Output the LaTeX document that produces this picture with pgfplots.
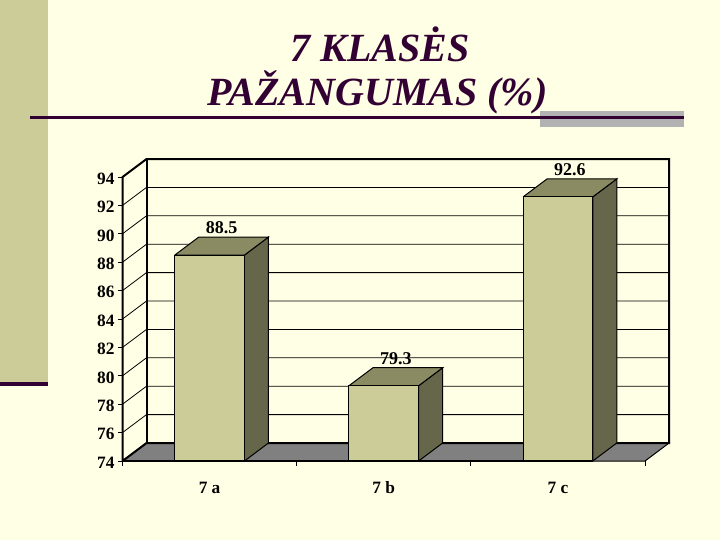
\documentclass[border=0pt]{standalone}
\usepackage{fontspec}
\setmainfont{Liberation Serif}
\usepackage{pgfplots}
\pgfplotsset{compat=1.18}
\definecolor{bg}{HTML}{FFFFE5}
\definecolor{barfront}{HTML}{CCCC99}
\definecolor{bartop}{HTML}{8A8A63}
\definecolor{barside}{HTML}{66664A}
\definecolor{plum}{HTML}{330033}
\definecolor{floorgray}{HTML}{808080}
\begin{document}
\begin{tikzpicture}
% slide background, in image pixels (1px = 0.75pt, y down)
\begin{scope}[x=0.75pt,y=-0.75pt]
\path[use as bounding box,fill=bg] (0,0) rectangle (720,540);
\fill[barfront] (0,0) rectangle (48,382);
\fill[plum] (0,382) rectangle (48,386);
\fill[black!30] (540,111) rectangle (684,127);
\fill[plum] (30,116) rectangle (684,119);
\node[text=plum,font=\fontsize{30}{30}\selectfont\bfseries\itshape] at (380,44) {7 KLASĖS};
\node[text=plum,font=\fontsize{30}{30}\selectfont\bfseries\itshape] at (377.5,92) {PAŽANGUMAS (\%)};
\end{scope}
\begin{axis}[
at={(91.875pt,-345.75pt)},anchor=south west,
scale only axis,width=391.875pt,height=213pt,
xmin=-0.5,xmax=2.5,ymin=74,ymax=94,
clip=false,
axis line style={draw=none},
tick align=outside,
xtick pos=lower,ytick pos=left,
xtick={-0.5,0.5,1.5,2.5},xticklabels={},
extra x ticks={0,1,2},
extra x tick labels={7 a,7 b,7 c},
extra x tick style={major tick length=0pt,
  xticklabel style={yshift=-11.5pt,text height=9pt,text depth=0.5pt}},
ytick={74,76,...,94},
major tick length=3.5pt,
tick style={black,line width=0.75pt},
/pgf/number format/assume math mode=true,
ticklabel style={font=\fontsize{13}{13}\selectfont\bfseries,black},
yticklabel style={xshift=1pt,yshift=-1.2pt},
]
% floor
\addplot[fill=floorgray,draw=black,line width=0.75pt] coordinates {
(-0.5,74) (-0.3622,75.268) (2.6378,75.268) (2.5,74) (-0.5,74)};
% gridlines: side wall and back wall
\addplot[black,line width=0.6pt,unbounded coords=jump] coordinates {
(-0.5,76) (-0.3622,77.268) (2.6378,77.268) (2.6378,nan)
(-0.5,78) (-0.3622,79.268) (2.6378,79.268) (2.6378,nan)
(-0.5,80) (-0.3622,81.268) (2.6378,81.268) (2.6378,nan)
(-0.5,82) (-0.3622,83.268) (2.6378,83.268) (2.6378,nan)
(-0.5,84) (-0.3622,85.268) (2.6378,85.268) (2.6378,nan)
(-0.5,86) (-0.3622,87.268) (2.6378,87.268) (2.6378,nan)
(-0.5,88) (-0.3622,89.268) (2.6378,89.268) (2.6378,nan)
(-0.5,90) (-0.3622,91.268) (2.6378,91.268) (2.6378,nan)
(-0.5,92) (-0.3622,93.268) (2.6378,93.268)};
% wall outline
\addplot[black,line width=1.5pt] coordinates {
(-0.5,74) (-0.5,94) (-0.3622,95.268) (2.6378,95.268) (2.6378,75.268) (-0.3622,75.268) (-0.5,74)};
\addplot[black,line width=1.5pt] coordinates {(-0.3622,75.268) (-0.3622,95.268)};
% 7 a
\addplot[fill=barside,draw=black,line width=0.75pt] coordinates {(0.2,74) (0.3378,75.268) (0.3378,89.768) (0.2,88.5) (0.2,74)};
\addplot[fill=bartop,draw=black,line width=0.75pt] coordinates {(-0.2,88.5) (-0.0622,89.768) (0.3378,89.768) (0.2,88.5) (-0.2,88.5)};
\addplot[fill=barfront,draw=black,line width=0.75pt] coordinates {(-0.2,74) (-0.2,88.5) (0.2,88.5) (0.2,74) (-0.2,74)};
% 7 b
\addplot[fill=barside,draw=black,line width=0.75pt] coordinates {(1.2,74) (1.3378,75.268) (1.3378,80.568) (1.2,79.3) (1.2,74)};
\addplot[fill=bartop,draw=black,line width=0.75pt] coordinates {(0.8,79.3) (0.9378,80.568) (1.3378,80.568) (1.2,79.3) (0.8,79.3)};
\addplot[fill=barfront,draw=black,line width=0.75pt] coordinates {(0.8,74) (0.8,79.3) (1.2,79.3) (1.2,74) (0.8,74)};
% 7 c
\addplot[fill=barside,draw=black,line width=0.75pt] coordinates {(2.2,74) (2.3378,75.268) (2.3378,93.868) (2.2,92.6) (2.2,74)};
\addplot[fill=bartop,draw=black,line width=0.75pt] coordinates {(1.8,92.6) (1.9378,93.868) (2.3378,93.868) (2.2,92.6) (1.8,92.6)};
\addplot[fill=barfront,draw=black,line width=0.75pt] coordinates {(1.8,74) (1.8,92.6) (2.2,92.6) (2.2,74) (1.8,74)};
% front bottom edge
\addplot[black,line width=1.5pt] coordinates {(-0.5,74) (2.2,74)};
% value labels
\addplot[draw=none,mark=none,
  nodes near coords,point meta=explicit symbolic,
  every node near coord/.style={font=\fontsize{13.5}{13.5}\selectfont\bfseries,black,inner sep=0pt,anchor=south,yshift=2pt}]
coordinates {(0.0689,89.768)[88.5] (1.0689,80.568)[79.3] (2.0689,93.868)[92.6]};
\end{axis}
\end{tikzpicture}
\end{document}
